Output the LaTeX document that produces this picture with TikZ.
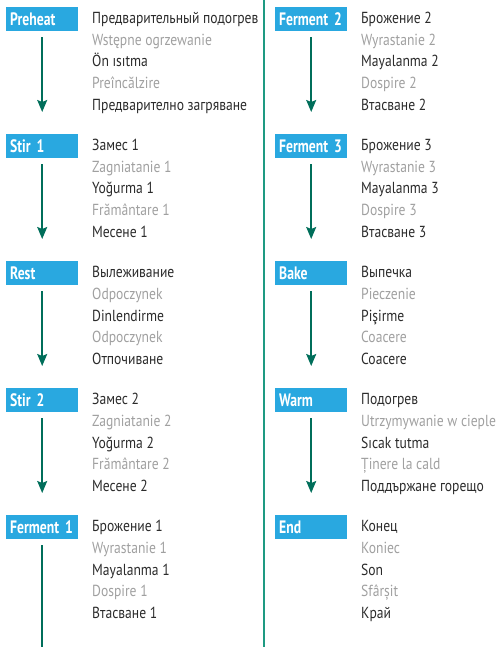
\documentclass[tikz,border=0pt]{standalone}
\usepackage{fontspec}
\setmainfont{PT Sans}[FakeStretch=0.85]
\newfontfamily\labfont{PT Sans}[FakeStretch=0.76]
\usetikzlibrary{arrows.meta}
\definecolor{boxblue}{HTML}{29A8E0}
\definecolor{txtdark}{HTML}{2B2B2B}
\definecolor{txtlight}{HTML}{A0A0A0}
\definecolor{arrgreen}{HTML}{006E5A}
\definecolor{divgreen}{HTML}{1E9A82}
\tikzset{
  labbox/.style={fill=boxblue, text=white, font=\labfont\bfseries\fontsize{18bp}{18bp}\selectfont,
    minimum height=24bp, inner xsep=4bp, inner ysep=0pt, text width=64bp, align=left, anchor=north west},
  dk/.style={text=txtdark, font=\fontsize{16bp}{16bp}\selectfont, inner sep=0pt, anchor=base west},
  lt/.style={text=txtlight, font=\fontsize{16bp}{16bp}\selectfont, inner sep=0pt, anchor=base west},
  flowarrow/.style={draw=arrgreen, line width=1.5bp, -{Stealth[length=12bp,width=10bp,inset=2bp]}, shorten <=6bp, shorten >=22bp},
  flowline/.style={draw=arrgreen, line width=1.5bp, shorten <=6bp},
  divider/.style={draw=divgreen, line width=1.5bp}
}
\newcommand\stepgroup[9]{%
  \node[labbox] (#3) at (#1,#2+7) {#4};
  \node[dk] (#3-a) at (#1+86,#2+23.5) {#5};
  \node[lt] (#3-b) at (#1+86,#2+45.25) {#6};
  \node[dk] (#3-c) at (#1+86,#2+67) {#7};
  \node[lt] (#3-d) at (#1+86,#2+88.75) {#8};
  \node[dk] (#3-e) at (#1+86,#2+110.5) {#9};
}
\begin{document}
\begin{tikzpicture}[x=1bp,y={(0bp,-1bp)}]
\useasboundingbox (0,0) rectangle (503,647);
\stepgroup{6}{0}{g1}{Preheat}{Предварительный подогрев}{Wstępne ogrzewanie}{Ön ısıtma}{Preîncălzire}{Предварително загряване}
\stepgroup{6}{127}{g2}{Stir 1}{Замес 1}{Zagniatanie 1}{Yoğurma 1}{Frământare 1}{Месене 1}
\stepgroup{6}{254}{g3}{Rest}{Вылеживание}{Odpoczynek}{Dinlendirme}{Odpoczynek}{Отпочиване}
\stepgroup{6}{381}{g4}{Stir 2}{Замес 2}{Zagniatanie 2}{Yoğurma 2}{Frământare 2}{Месене 2}
\stepgroup{6}{508}{g5}{Ferment 1}{Брожение 1}{Wyrastanie 1}{Mayalanma 1}{Dospire 1}{Втасване 1}
\stepgroup{275}{0}{g6}{Ferment 2}{Брожение 2}{Wyrastanie 2}{Mayalanma 2}{Dospire 2}{Втасване 2}
\stepgroup{275}{127}{g7}{Ferment 3}{Брожение 3}{Wyrastanie 3}{Mayalanma 3}{Dospire 3}{Втасване 3}
\stepgroup{275}{254}{g8}{Bake}{Выпечка}{Pieczenie}{Pişirme}{Coacere}{Coacere}
\stepgroup{275}{381}{g9}{Warm}{Подогрев}{Utrzymywanie w cieple}{Sıcak tutma}{Ținere la cald}{Поддържане горещо}
\stepgroup{275}{508}{g10}{End}{Конец}{Koniec}{Son}{Sfârșit}{Край}
\foreach \a/\b in {g1/g2,g2/g3,g3/g4,g4/g5,g6/g7,g7/g8,g8/g9,g9/g10}
  \draw[flowarrow] (\a.south) -- (\b.north);
\coordinate (f1end) at (g5.south |- 0,647);
\draw[flowline] (g5.south) -- (f1end);
\coordinate (divtop) at (264,0);
\coordinate (divbot) at (264,647);
\draw[divider] (divtop) -- (divbot);
\end{tikzpicture}
\end{document}
